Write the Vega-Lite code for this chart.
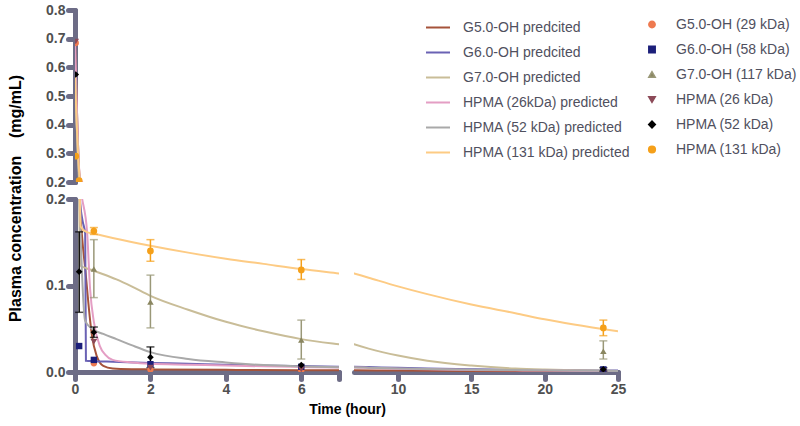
{
  "$schema": "https://vega.github.io/schema/vega-lite/v6.json",
  "padding": {"left": 7, "top": 3, "right": 5, "bottom": 5},
  "bounds": "flush",
  "spacing": 17,
  "datasets": {
    "pred": [
      {"s": "G5.0-OH predcited", "t": 0, "c": 0.69},
      {"s": "G5.0-OH predcited", "t": 0.04, "c": 0.5},
      {"s": "G5.0-OH predcited", "t": 0.08, "c": 0.33},
      {"s": "G5.0-OH predcited", "t": 0.13, "c": 0.2},
      {"s": "G5.0-OH predcited", "t": 0.2, "c": 0.15},
      {"s": "G5.0-OH predcited", "t": 0.27, "c": 0.12},
      {"s": "G5.0-OH predcited", "t": 0.32, "c": 0.096},
      {"s": "G5.0-OH predcited", "t": 0.4, "c": 0.06},
      {"s": "G5.0-OH predcited", "t": 0.45, "c": 0.042},
      {"s": "G5.0-OH predcited", "t": 0.58, "c": 0.018},
      {"s": "G5.0-OH predcited", "t": 0.75, "c": 0.007},
      {"s": "G5.0-OH predcited", "t": 1, "c": 0.004},
      {"s": "G5.0-OH predcited", "t": 1.5, "c": 0.0032},
      {"s": "G5.0-OH predcited", "t": 2, "c": 0.003},
      {"s": "G5.0-OH predcited", "t": 4, "c": 0.0025},
      {"s": "G5.0-OH predcited", "t": 6, "c": 0.0021},
      {"s": "G5.0-OH predcited", "t": 7, "c": 0.002},
      {"s": "G5.0-OH predcited", "t": 10, "c": 0.0017},
      {"s": "G5.0-OH predcited", "t": 15, "c": 0.0013},
      {"s": "G5.0-OH predcited", "t": 20, "c": 0.001},
      {"s": "G5.0-OH predcited", "t": 25, "c": 0.0008},

      {"s": "G6.0-OH predcited", "t": 0, "c": 0.6},
      {"s": "G6.0-OH predcited", "t": 0.04, "c": 0.42},
      {"s": "G6.0-OH predcited", "t": 0.08, "c": 0.29},
      {"s": "G6.0-OH predcited", "t": 0.13, "c": 0.2},
      {"s": "G6.0-OH predcited", "t": 0.2, "c": 0.175},
      {"s": "G6.0-OH predcited", "t": 0.27, "c": 0.16},
      {"s": "G6.0-OH predcited", "t": 0.29, "c": 0.013},
      {"s": "G6.0-OH predcited", "t": 0.5, "c": 0.0125},
      {"s": "G6.0-OH predcited", "t": 1, "c": 0.0118},
      {"s": "G6.0-OH predcited", "t": 2, "c": 0.0105},
      {"s": "G6.0-OH predcited", "t": 3, "c": 0.0095},
      {"s": "G6.0-OH predcited", "t": 4, "c": 0.0085},
      {"s": "G6.0-OH predcited", "t": 5, "c": 0.0076},
      {"s": "G6.0-OH predcited", "t": 6, "c": 0.0068},
      {"s": "G6.0-OH predcited", "t": 7, "c": 0.0062},
      {"s": "G6.0-OH predcited", "t": 8, "c": 0.0057},
      {"s": "G6.0-OH predcited", "t": 10, "c": 0.0048},
      {"s": "G6.0-OH predcited", "t": 12, "c": 0.0041},
      {"s": "G6.0-OH predcited", "t": 15, "c": 0.0033},
      {"s": "G6.0-OH predcited", "t": 18, "c": 0.0026},
      {"s": "G6.0-OH predcited", "t": 20, "c": 0.0023},
      {"s": "G6.0-OH predcited", "t": 22, "c": 0.002},
      {"s": "G6.0-OH predcited", "t": 25, "c": 0.0016},

      {"s": "G7.0-OH predicted", "t": 0, "c": 0.62},
      {"s": "G7.0-OH predicted", "t": 0.04, "c": 0.42},
      {"s": "G7.0-OH predicted", "t": 0.08, "c": 0.28},
      {"s": "G7.0-OH predicted", "t": 0.12, "c": 0.17},
      {"s": "G7.0-OH predicted", "t": 0.14, "c": 0.123},
      {"s": "G7.0-OH predicted", "t": 0.3, "c": 0.12},
      {"s": "G7.0-OH predicted", "t": 0.5, "c": 0.117},
      {"s": "G7.0-OH predicted", "t": 0.75, "c": 0.113},
      {"s": "G7.0-OH predicted", "t": 1.1, "c": 0.107},
      {"s": "G7.0-OH predicted", "t": 1.5, "c": 0.099},
      {"s": "G7.0-OH predicted", "t": 2, "c": 0.088},
      {"s": "G7.0-OH predicted", "t": 3, "c": 0.072},
      {"s": "G7.0-OH predicted", "t": 4, "c": 0.058},
      {"s": "G7.0-OH predicted", "t": 5, "c": 0.047},
      {"s": "G7.0-OH predicted", "t": 6, "c": 0.038},
      {"s": "G7.0-OH predicted", "t": 7, "c": 0.032},
      {"s": "G7.0-OH predicted", "t": 8, "c": 0.027},
      {"s": "G7.0-OH predicted", "t": 10, "c": 0.019},
      {"s": "G7.0-OH predicted", "t": 12, "c": 0.013},
      {"s": "G7.0-OH predicted", "t": 15, "c": 0.0075},
      {"s": "G7.0-OH predicted", "t": 18, "c": 0.004},
      {"s": "G7.0-OH predicted", "t": 20, "c": 0.0028},
      {"s": "G7.0-OH predicted", "t": 22, "c": 0.002},
      {"s": "G7.0-OH predicted", "t": 25, "c": 0.0012},

      {"s": "HPMA (26kDa) predicted", "t": 0, "c": 0.69},
      {"s": "HPMA (26kDa) predicted", "t": 0.04, "c": 0.5},
      {"s": "HPMA (26kDa) predicted", "t": 0.08, "c": 0.33},
      {"s": "HPMA (26kDa) predicted", "t": 0.13, "c": 0.215},
      {"s": "HPMA (26kDa) predicted", "t": 0.19, "c": 0.2},
      {"s": "HPMA (26kDa) predicted", "t": 0.32, "c": 0.162},
      {"s": "HPMA (26kDa) predicted", "t": 0.4, "c": 0.096},
      {"s": "HPMA (26kDa) predicted", "t": 0.5, "c": 0.058},
      {"s": "HPMA (26kDa) predicted", "t": 0.66, "c": 0.03},
      {"s": "HPMA (26kDa) predicted", "t": 0.8, "c": 0.02},
      {"s": "HPMA (26kDa) predicted", "t": 1, "c": 0.014},
      {"s": "HPMA (26kDa) predicted", "t": 1.5, "c": 0.011},
      {"s": "HPMA (26kDa) predicted", "t": 2, "c": 0.0095},
      {"s": "HPMA (26kDa) predicted", "t": 3, "c": 0.0085},
      {"s": "HPMA (26kDa) predicted", "t": 4, "c": 0.0075},
      {"s": "HPMA (26kDa) predicted", "t": 5, "c": 0.0066},
      {"s": "HPMA (26kDa) predicted", "t": 6, "c": 0.0058},
      {"s": "HPMA (26kDa) predicted", "t": 7, "c": 0.0052},
      {"s": "HPMA (26kDa) predicted", "t": 8, "c": 0.0047},
      {"s": "HPMA (26kDa) predicted", "t": 10, "c": 0.0038},
      {"s": "HPMA (26kDa) predicted", "t": 12, "c": 0.0031},
      {"s": "HPMA (26kDa) predicted", "t": 15, "c": 0.0024},
      {"s": "HPMA (26kDa) predicted", "t": 18, "c": 0.0019},
      {"s": "HPMA (26kDa) predicted", "t": 20, "c": 0.0016},
      {"s": "HPMA (26kDa) predicted", "t": 22, "c": 0.0014},
      {"s": "HPMA (26kDa) predicted", "t": 25, "c": 0.0011},

      {"s": "HPMA (52 kDa) predicted", "t": 0, "c": 0.58},
      {"s": "HPMA (52 kDa) predicted", "t": 0.04, "c": 0.42},
      {"s": "HPMA (52 kDa) predicted", "t": 0.08, "c": 0.29},
      {"s": "HPMA (52 kDa) predicted", "t": 0.13, "c": 0.19},
      {"s": "HPMA (52 kDa) predicted", "t": 0.2, "c": 0.1},
      {"s": "HPMA (52 kDa) predicted", "t": 0.27, "c": 0.059},
      {"s": "HPMA (52 kDa) predicted", "t": 0.45, "c": 0.05},
      {"s": "HPMA (52 kDa) predicted", "t": 0.75, "c": 0.044},
      {"s": "HPMA (52 kDa) predicted", "t": 1.1, "c": 0.038},
      {"s": "HPMA (52 kDa) predicted", "t": 1.5, "c": 0.031},
      {"s": "HPMA (52 kDa) predicted", "t": 2, "c": 0.023},
      {"s": "HPMA (52 kDa) predicted", "t": 3, "c": 0.015},
      {"s": "HPMA (52 kDa) predicted", "t": 4, "c": 0.011},
      {"s": "HPMA (52 kDa) predicted", "t": 5, "c": 0.008},
      {"s": "HPMA (52 kDa) predicted", "t": 6, "c": 0.0065},
      {"s": "HPMA (52 kDa) predicted", "t": 7, "c": 0.0055},
      {"s": "HPMA (52 kDa) predicted", "t": 8, "c": 0.005},
      {"s": "HPMA (52 kDa) predicted", "t": 10, "c": 0.004},
      {"s": "HPMA (52 kDa) predicted", "t": 12, "c": 0.0034},
      {"s": "HPMA (52 kDa) predicted", "t": 15, "c": 0.0027},
      {"s": "HPMA (52 kDa) predicted", "t": 18, "c": 0.0022},
      {"s": "HPMA (52 kDa) predicted", "t": 20, "c": 0.0019},
      {"s": "HPMA (52 kDa) predicted", "t": 22, "c": 0.0016},
      {"s": "HPMA (52 kDa) predicted", "t": 25, "c": 0.0013},

      {"s": "HPMA (131 kDa) predicted", "t": 0, "c": 0.57},
      {"s": "HPMA (131 kDa) predicted", "t": 0.04, "c": 0.42},
      {"s": "HPMA (131 kDa) predicted", "t": 0.08, "c": 0.3},
      {"s": "HPMA (131 kDa) predicted", "t": 0.13, "c": 0.2},
      {"s": "HPMA (131 kDa) predicted", "t": 0.15, "c": 0.168},
      {"s": "HPMA (131 kDa) predicted", "t": 0.3, "c": 0.162},
      {"s": "HPMA (131 kDa) predicted", "t": 0.5, "c": 0.16},
      {"s": "HPMA (131 kDa) predicted", "t": 1, "c": 0.155},
      {"s": "HPMA (131 kDa) predicted", "t": 2, "c": 0.146},
      {"s": "HPMA (131 kDa) predicted", "t": 3, "c": 0.138},
      {"s": "HPMA (131 kDa) predicted", "t": 4, "c": 0.131},
      {"s": "HPMA (131 kDa) predicted", "t": 5, "c": 0.125},
      {"s": "HPMA (131 kDa) predicted", "t": 6, "c": 0.119},
      {"s": "HPMA (131 kDa) predicted", "t": 7, "c": 0.114},
      {"s": "HPMA (131 kDa) predicted", "t": 8, "c": 0.109},
      {"s": "HPMA (131 kDa) predicted", "t": 10, "c": 0.099},
      {"s": "HPMA (131 kDa) predicted", "t": 12, "c": 0.09},
      {"s": "HPMA (131 kDa) predicted", "t": 15, "c": 0.078},
      {"s": "HPMA (131 kDa) predicted", "t": 18, "c": 0.068},
      {"s": "HPMA (131 kDa) predicted", "t": 20, "c": 0.061},
      {"s": "HPMA (131 kDa) predicted", "t": 22, "c": 0.055},
      {"s": "HPMA (131 kDa) predicted", "t": 25, "c": 0.047}
    ],
    "obs": [
      {"s": "G5.0-OH (29 kDa)", "t": 0.02, "c": 0.685},
      {"s": "G5.0-OH (29 kDa)", "t": 0.5, "c": 0.01},
      {"s": "G5.0-OH (29 kDa)", "t": 2, "c": 0.003},
      {"s": "G5.0-OH (29 kDa)", "t": 6, "c": 0.002},
      {"s": "G5.0-OH (29 kDa)", "t": 24, "c": 0.001},
      {"s": "G6.0-OH (58 kDa)", "t": 0.11, "c": 0.03},
      {"s": "G6.0-OH (58 kDa)", "t": 0.5, "c": 0.014},
      {"s": "G6.0-OH (58 kDa)", "t": 2, "c": 0.009},
      {"s": "G6.0-OH (58 kDa)", "t": 6, "c": 0.006},
      {"s": "G6.0-OH (58 kDa)", "t": 24, "c": 0.003},
      {"s": "G7.0-OH (117 kDa)", "t": 0.5, "c": 0.119, "lo": 0.086, "hi": 0.153},
      {"s": "G7.0-OH (117 kDa)", "t": 2, "c": 0.081, "lo": 0.051, "hi": 0.112},
      {"s": "G7.0-OH (117 kDa)", "t": 6, "c": 0.037, "lo": 0.015, "hi": 0.06},
      {"s": "G7.0-OH (117 kDa)", "t": 24, "c": 0.024, "lo": 0.015, "hi": 0.036},
      {"s": "HPMA (26 kDa)", "t": 0.02, "c": 0.69},
      {"s": "HPMA (26 kDa)", "t": 0.5, "c": 0.035},
      {"s": "HPMA (26 kDa)", "t": 2, "c": 0.005},
      {"s": "HPMA (26 kDa)", "t": 6, "c": 0.003},
      {"s": "HPMA (26 kDa)", "t": 24, "c": 0.001},
      {"s": "HPMA (52 kDa)", "t": 0.02, "c": 0.575},
      {"s": "HPMA (52 kDa)", "t": 0.11, "c": 0.116, "lo": 0.069, "hi": 0.162},
      {"s": "HPMA (52 kDa)", "t": 0.5, "c": 0.046, "lo": 0.04, "hi": 0.052},
      {"s": "HPMA (52 kDa)", "t": 2, "c": 0.017, "lo": 0.005, "hi": 0.029},
      {"s": "HPMA (52 kDa)", "t": 6, "c": 0.008},
      {"s": "HPMA (52 kDa)", "t": 24, "c": 0.003, "lo": 0.001, "hi": 0.005},
      {"s": "HPMA (131 kDa)", "t": 0.02, "c": 0.29},
      {"s": "HPMA (131 kDa)", "t": 0.11, "c": 0.205},
      {"s": "HPMA (131 kDa)", "t": 0.5, "c": 0.163, "lo": 0.159, "hi": 0.167},
      {"s": "HPMA (131 kDa)", "t": 2, "c": 0.14, "lo": 0.128, "hi": 0.153},
      {"s": "HPMA (131 kDa)", "t": 6, "c": 0.118, "lo": 0.107, "hi": 0.13},
      {"s": "HPMA (131 kDa)", "t": 24, "c": 0.051, "lo": 0.042, "hi": 0.06}
    ]
  },
  "vconcat": [
    {
      "width": 264,
      "height": 172,
      "layer": [
        {
          "data": {"name": "pred"},
          "mark": {"type": "line", "clip": true, "interpolate": "monotone", "strokeWidth": 2},
          "encoding": {
            "x": {"field": "t", "type": "quantitative", "scale": {"domain": [0, 7], "nice": false, "zero": false}, "axis": null},
            "y": {"field": "c", "type": "quantitative", "scale": {"domain": [0.2, 0.8], "nice": false, "zero": false}, "axis": {"values": [0.2, 0.3, 0.4, 0.5, 0.6, 0.7, 0.8], "format": ".1f", "title": null}},
            "stroke": {"field": "s", "type": "nominal",
              "scale": {"domain": ["G5.0-OH predcited", "G6.0-OH predcited", "G7.0-OH predicted", "HPMA (26kDa) predicted", "HPMA (52 kDa) predicted", "HPMA (131 kDa) predicted"],
                        "range": ["#a5533a", "#6a62b4", "#c9bd98", "#e49ec4", "#a9a9a9", "#fdcb84"]},
              "legend": {"orient": "none", "legendX": 350, "legendY": 5, "title": null, "symbolType": "stroke", "symbolSize": 576, "symbolStrokeWidth": 2, "labelOffset": 12, "rowPadding": 0, "clipHeight": 25, "labelLimit": 0}}
          }
        },
        {
          "data": {"name": "obs"},
          "mark": {"type": "point", "filled": true, "clip": true, "opacity": 1, "strokeWidth": 0},
          "encoding": {
            "x": {"field": "t", "type": "quantitative", "scale": {"domain": [0, 7], "nice": false, "zero": false}, "axis": null},
            "y": {"field": "c", "type": "quantitative", "scale": {"domain": [0.2, 0.8], "nice": false, "zero": false}, "axis": {"values": [0.2, 0.3, 0.4, 0.5, 0.6, 0.7, 0.8], "format": ".1f", "title": null}},
            "fill": {"field": "s", "type": "nominal",
              "scale": {"domain": ["G5.0-OH (29 kDa)", "G6.0-OH (58 kDa)", "G7.0-OH (117 kDa)", "HPMA (26 kDa)", "HPMA (52 kDa)", "HPMA (131 kDa)"],
                        "range": ["#ee7a50", "#1c1f7a", "#8a8660", "#8c4a58", "#000000", "#f5a01a"]},
              "legend": {"orient": "none", "legendX": 570, "legendY": 2, "title": null, "labelOffset": 17, "rowPadding": 0, "clipHeight": 25, "labelLimit": 0}},
            "shape": {"field": "s", "type": "nominal",
              "scale": {"domain": ["G5.0-OH (29 kDa)", "G6.0-OH (58 kDa)", "G7.0-OH (117 kDa)", "HPMA (26 kDa)", "HPMA (52 kDa)", "HPMA (131 kDa)"],
                        "range": ["circle", "square", "triangle-up", "triangle-down", "diamond", "circle"]}},
            "size": {"field": "s", "type": "nominal",
              "scale": {"domain": ["G5.0-OH (29 kDa)", "G6.0-OH (58 kDa)", "G7.0-OH (117 kDa)", "HPMA (26 kDa)", "HPMA (52 kDa)", "HPMA (131 kDa)"],
                        "range": [40, 45, 30, 30, 40, 100]}}
          }
        }
      ]
    },
    {
      "bounds": "flush",
      "spacing": 15,
      "hconcat": [
        {
          "width": 264,
          "height": 173,
          "layer": [
            {
              "data": {"name": "pred"},
              "mark": {"type": "line", "clip": true, "interpolate": "monotone", "strokeWidth": 2},
              "encoding": {
                "x": {"field": "t", "type": "quantitative", "scale": {"domain": [0, 7], "nice": false, "zero": false}, "axis": {"values": [0, 2, 4, 6, 7], "labelExpr": "datum.value == 7 ? '' : datum.label", "title": "Time (hour)", "titleX": 272, "titleY": 30}},
                "y": {"field": "c", "type": "quantitative", "scale": {"domain": [0, 0.2], "nice": false}, "axis": {"values": [0, 0.1, 0.2], "format": ".1f", "title": "Plasma concentration\u00a0\u00a0\u00a0\u00a0(mg/mL)", "titleFontSize": 16, "titleX": -60, "titleY": -1, "titleBaseline": "middle", "titleAlign": "center"}},
                "stroke": {"field": "s", "type": "nominal",
                  "scale": {"domain": ["G5.0-OH predcited", "G6.0-OH predcited", "G7.0-OH predicted", "HPMA (26kDa) predicted", "HPMA (52 kDa) predicted", "HPMA (131 kDa) predicted"],
                            "range": ["#a5533a", "#6a62b4", "#c9bd98", "#e49ec4", "#a9a9a9", "#fdcb84"]}}
              }
            },
            {
              "data": {"name": "obs"},
              "transform": [{"filter": "isValid(datum.lo) && datum.hi <= 0.2 && datum.t <= 7"}],
              "mark": {"type": "errorbar", "ticks": true, "thickness": 1.5, "size": 8},
              "encoding": {
                "x": {"field": "t", "type": "quantitative", "scale": {"domain": [0, 7], "nice": false, "zero": false}, "axis": {"values": [0, 2, 4, 6, 7], "labelExpr": "datum.value == 7 ? '' : datum.label", "title": "Time (hour)", "titleX": 272, "titleY": 30}},
                "y": {"field": "lo", "type": "quantitative", "scale": {"domain": [0, 0.2], "nice": false}, "axis": {"values": [0, 0.1, 0.2], "format": ".1f", "title": "Plasma concentration\u00a0\u00a0\u00a0\u00a0(mg/mL)", "titleFontSize": 16, "titleX": -60, "titleY": -1, "titleBaseline": "middle", "titleAlign": "center"}},
                "y2": {"field": "hi"},
                "color": {"field": "s", "type": "nominal", "legend": null,
                  "scale": {"domain": ["G5.0-OH (29 kDa)", "G6.0-OH (58 kDa)", "G7.0-OH (117 kDa)", "HPMA (26 kDa)", "HPMA (52 kDa)", "HPMA (131 kDa)"],
                            "range": ["#ee7a50", "#1c1f7a", "#9a9878", "#8c4a58", "#000000", "#f5a01a"]}}
              }
            },
            {
              "data": {"name": "obs"},
              "mark": {"type": "point", "filled": true, "clip": true, "opacity": 1, "strokeWidth": 0},
              "encoding": {
                "x": {"field": "t", "type": "quantitative", "scale": {"domain": [0, 7], "nice": false, "zero": false}, "axis": {"values": [0, 2, 4, 6, 7], "labelExpr": "datum.value == 7 ? '' : datum.label", "title": "Time (hour)", "titleX": 272, "titleY": 30}},
                "y": {"field": "c", "type": "quantitative", "scale": {"domain": [0, 0.2], "nice": false}, "axis": {"values": [0, 0.1, 0.2], "format": ".1f", "title": "Plasma concentration\u00a0\u00a0\u00a0\u00a0(mg/mL)", "titleFontSize": 16, "titleX": -60, "titleY": -1, "titleBaseline": "middle", "titleAlign": "center"}},
                "fill": {"field": "s", "type": "nominal",
                  "scale": {"domain": ["G5.0-OH (29 kDa)", "G6.0-OH (58 kDa)", "G7.0-OH (117 kDa)", "HPMA (26 kDa)", "HPMA (52 kDa)", "HPMA (131 kDa)"],
                            "range": ["#ee7a50", "#1c1f7a", "#8a8660", "#8c4a58", "#000000", "#f5a01a"]}},
                "shape": {"field": "s", "type": "nominal",
                  "scale": {"domain": ["G5.0-OH (29 kDa)", "G6.0-OH (58 kDa)", "G7.0-OH (117 kDa)", "HPMA (26 kDa)", "HPMA (52 kDa)", "HPMA (131 kDa)"],
                            "range": ["circle", "square", "triangle-up", "triangle-down", "diamond", "circle"]}},
                "size": {"field": "s", "type": "nominal",
                  "scale": {"domain": ["G5.0-OH (29 kDa)", "G6.0-OH (58 kDa)", "G7.0-OH (117 kDa)", "HPMA (26 kDa)", "HPMA (52 kDa)", "HPMA (131 kDa)"],
                            "range": [40, 45, 30, 30, 40, 100]}}
              }
            }
          ]
        },
        {
          "width": 264,
          "height": 173,
          "layer": [
            {
              "data": {"name": "pred"},
              "mark": {"type": "line", "clip": true, "interpolate": "monotone", "strokeWidth": 2},
              "encoding": {
                "x": {"field": "t", "type": "quantitative", "scale": {"domain": [7, 25], "nice": false, "zero": false}, "axis": {"values": [10, 15, 20, 25], "title": null}},
                "y": {"field": "c", "type": "quantitative", "scale": {"domain": [0, 0.2], "nice": false}, "axis": null},
                "stroke": {"field": "s", "type": "nominal",
                  "scale": {"domain": ["G5.0-OH predcited", "G6.0-OH predcited", "G7.0-OH predicted", "HPMA (26kDa) predicted", "HPMA (52 kDa) predicted", "HPMA (131 kDa) predicted"],
                            "range": ["#a5533a", "#6a62b4", "#c9bd98", "#e49ec4", "#a9a9a9", "#fdcb84"]}}
              }
            },
            {
              "data": {"name": "obs"},
              "transform": [{"filter": "isValid(datum.lo) && datum.hi <= 0.2 && datum.t >= 7"}],
              "mark": {"type": "errorbar", "ticks": true, "thickness": 1.5, "size": 8},
              "encoding": {
                "x": {"field": "t", "type": "quantitative", "scale": {"domain": [7, 25], "nice": false, "zero": false}, "axis": {"values": [10, 15, 20, 25], "title": null}},
                "y": {"field": "lo", "type": "quantitative", "scale": {"domain": [0, 0.2], "nice": false}, "axis": null},
                "y2": {"field": "hi"},
                "color": {"field": "s", "type": "nominal", "legend": null,
                  "scale": {"domain": ["G5.0-OH (29 kDa)", "G6.0-OH (58 kDa)", "G7.0-OH (117 kDa)", "HPMA (26 kDa)", "HPMA (52 kDa)", "HPMA (131 kDa)"],
                            "range": ["#ee7a50", "#1c1f7a", "#9a9878", "#8c4a58", "#000000", "#f5a01a"]}}
              }
            },
            {
              "data": {"name": "obs"},
              "mark": {"type": "point", "filled": true, "clip": true, "opacity": 1, "strokeWidth": 0},
              "encoding": {
                "x": {"field": "t", "type": "quantitative", "scale": {"domain": [7, 25], "nice": false, "zero": false}, "axis": {"values": [10, 15, 20, 25], "title": null}},
                "y": {"field": "c", "type": "quantitative", "scale": {"domain": [0, 0.2], "nice": false}, "axis": null},
                "fill": {"field": "s", "type": "nominal",
                  "scale": {"domain": ["G5.0-OH (29 kDa)", "G6.0-OH (58 kDa)", "G7.0-OH (117 kDa)", "HPMA (26 kDa)", "HPMA (52 kDa)", "HPMA (131 kDa)"],
                            "range": ["#ee7a50", "#1c1f7a", "#8a8660", "#8c4a58", "#000000", "#f5a01a"]}},
                "shape": {"field": "s", "type": "nominal",
                  "scale": {"domain": ["G5.0-OH (29 kDa)", "G6.0-OH (58 kDa)", "G7.0-OH (117 kDa)", "HPMA (26 kDa)", "HPMA (52 kDa)", "HPMA (131 kDa)"],
                            "range": ["circle", "square", "triangle-up", "triangle-down", "diamond", "circle"]}},
                "size": {"field": "s", "type": "nominal",
                  "scale": {"domain": ["G5.0-OH (29 kDa)", "G6.0-OH (58 kDa)", "G7.0-OH (117 kDa)", "HPMA (26 kDa)", "HPMA (52 kDa)", "HPMA (131 kDa)"],
                            "range": [40, 45, 30, 30, 40, 100]}}
              }
            }
          ]
        }
      ]
    }
  ],
  "config": {
    "view": {"stroke": null},
    "axis": {
      "domainColor": "#6d6c86", "domainWidth": 5, "domainCap": "round",
      "tickColor": "#6d6c86", "tickWidth": 5, "tickCap": "round", "tickSize": 7,
      "labelFont": "Liberation Sans", "labelFontWeight": "bold", "labelFontSize": 14, "labelColor": "#505050", "labelPadding": 3,
      "labelFlush": false, "labelOverlap": false,
      "titleFont": "Liberation Sans", "titleFontWeight": "bold", "titleFontSize": 14, "titleColor": "#000000",
      "grid": false
    },
    "legend": {"labelFont": "Liberation Sans", "labelFontSize": 14, "labelColor": "#50505e"}
  }
}
